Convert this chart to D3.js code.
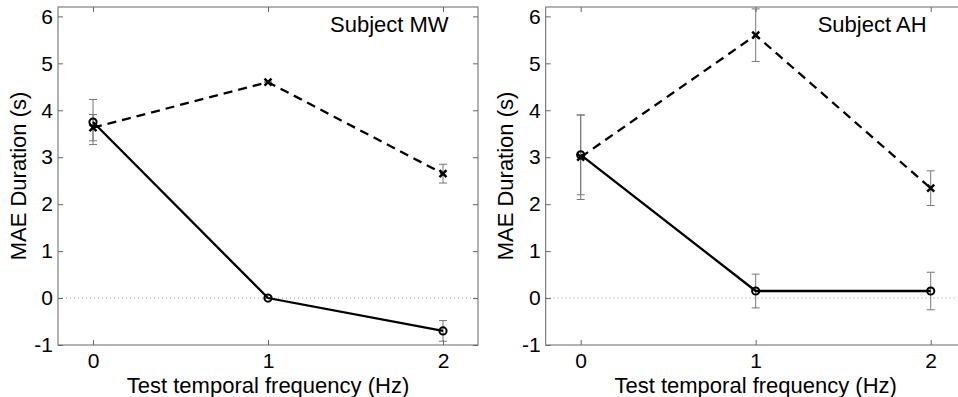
<!DOCTYPE html>
<html>
<head>
<meta charset="utf-8">
<script src="https://cdn.jsdelivr.net/npm/d3@7"></script>
<style>
  html, body { margin: 0; padding: 0; background: #fff; overflow: hidden; }
  text { font-family: "Liberation Sans", Arial, Helvetica, sans-serif; fill: #000; }
</style>
</head>
<body>
<div id="chart"></div>
<script>
// data
const freqs = [0, 1, 2];
const xTicks = [0, 1, 2];
const yTicks = [-1, 0, 1, 2, 3, 4, 5, 6];
const subjects = ['Subject MW', 'Subject AH'];

const mwSolid = [3.75, 0.0, -0.70];
const mwSolidErr = [0.48, 0.0, 0.22];
const mwDashed = [3.63, 4.60, 2.65];
const mwDashedErr = [0.28, 0.0, 0.20];

const ahSolid = [3.05, 0.15, 0.15];
const ahSolidErr = [0.85, 0.36, 0.40];
const ahDashed = [3.0, 5.6, 2.34];
const ahDashedErr = [0.9, 0.56, 0.37];

const panels = [
  { title: subjects[0], solid: mwSolid, solidErr: mwSolidErr, dashed: mwDashed, dashedErr: mwDashedErr, left: 58 },
  { title: subjects[1], solid: ahSolid, solidErr: ahSolidErr, dashed: ahDashed, dashedErr: ahDashedErr, left: 545.7 }
];

const W = 958, H = 397;
const plotTop = 7, pw = 420, ph = 338;
const axisColor = '#666';

const svg = d3.select('#chart').append('svg')
  .attr('width', W)
  .attr('height', H);

const x = d3.scaleLinear().domain([-0.2, 2.2]).range([0, pw]);
const y = d3.scaleLinear().domain([-1, 6.2]).range([ph, 0]);

panels.forEach(p => {
  const g = svg.append('g').attr('transform', 'translate(' + p.left + ',' + plotTop + ')');

  // zero reference line
  g.append('line')
    .attr('x1', 0).attr('x2', pw)
    .attr('y1', y(0)).attr('y2', y(0))
    .attr('stroke', '#999')
    .attr('stroke-width', 1)
    .attr('stroke-dasharray', '1,3');

  // axes, ticks pointing inward
  const styleAxis = sel => {
    sel.select('.domain').remove();
    sel.selectAll('.tick line').attr('stroke', axisColor);
    sel.selectAll('.tick text').style('font-size', '21px').style('font-family', '"Liberation Sans", Arial, sans-serif').attr('fill', '#000');
  };

  g.append('g')
    .call(d3.axisLeft(y).tickValues(yTicks).tickFormat(d => String(d)).tickSizeInner(-5).tickSizeOuter(0).tickPadding(5))
    .call(styleAxis);

  g.append('g')
    .attr('transform', 'translate(' + pw + ',0)')
    .call(d3.axisRight(y).tickValues(yTicks).tickFormat('').tickSizeInner(-5).tickSizeOuter(0))
    .call(styleAxis);

  g.append('g')
    .attr('transform', 'translate(0,' + ph + ')')
    .call(d3.axisBottom(x).tickValues(xTicks).tickFormat(d => String(d)).tickSizeInner(-5).tickSizeOuter(0).tickPadding(8))
    .call(styleAxis);

  g.append('g')
    .call(d3.axisTop(x).tickValues(xTicks).tickFormat('').tickSizeInner(-5).tickSizeOuter(0))
    .call(styleAxis);

  g.append('rect')
    .attr('width', pw).attr('height', ph)
    .attr('fill', 'none')
    .attr('stroke', axisColor)
    .attr('stroke-width', 1);

  // error bars
  const drawErr = (vals, errs) => {
    const eg = g.append('g').attr('stroke', '#777').attr('stroke-width', 1);
    freqs.forEach((f, i) => {
      const cx = x(f), lo = y(vals[i] - errs[i]), hi = y(vals[i] + errs[i]);
      eg.append('line').attr('x1', cx).attr('x2', cx).attr('y1', lo).attr('y2', hi);
      eg.append('line').attr('x1', cx - 4).attr('x2', cx + 4).attr('y1', lo).attr('y2', lo);
      eg.append('line').attr('x1', cx - 4).attr('x2', cx + 4).attr('y1', hi).attr('y2', hi);
    });
  };
  drawErr(p.dashed, p.dashedErr);
  drawErr(p.solid, p.solidErr);

  const line = d3.line().x((d, i) => x(freqs[i])).y(d => y(d));

  g.append('path')
    .datum(p.dashed)
    .attr('d', line)
    .attr('fill', 'none')
    .attr('stroke', '#000')
    .attr('stroke-width', 2.3)
    .attr('stroke-dasharray', '9,6');

  g.append('path')
    .datum(p.solid)
    .attr('d', line)
    .attr('fill', 'none')
    .attr('stroke', '#000')
    .attr('stroke-width', 2.3);

  // markers
  g.selectAll('.cross')
    .data(p.dashed)
    .enter()
    .append('path')
    .attr('d', (d, i) => {
      const cx = x(freqs[i]), cy = y(d), s = 3.5;
      return 'M' + (cx - s) + ',' + (cy - s) + 'L' + (cx + s) + ',' + (cy + s) +
             'M' + (cx - s) + ',' + (cy + s) + 'L' + (cx + s) + ',' + (cy - s);
    })
    .attr('stroke', '#000')
    .attr('stroke-width', 2.4);

  g.selectAll('.circ')
    .data(p.solid)
    .enter()
    .append('circle')
    .attr('cx', (d, i) => x(freqs[i]))
    .attr('cy', d => y(d))
    .attr('r', 3.6)
    .attr('fill', 'none')
    .attr('stroke', '#000')
    .attr('stroke-width', 2);

  // subject label
  g.append('text')
    .attr('x', 272)
    .attr('y', 25)
    .style('font-size', '22px')
    .text(p.title);

  // axis titles
  g.append('text')
    .attr('x', pw / 2)
    .attr('y', ph + 47.5)
    .attr('text-anchor', 'middle')
    .style('font-size', '22px')
    .text('Test temporal frequency (Hz)');

  g.append('text')
    .attr('transform', 'translate(-32.5,' + (ph / 2) + ')rotate(-90)')
    .attr('text-anchor', 'middle')
    .style('font-size', '22px')
    .text('MAE Duration (s)');
});
</script>
</body>
</html>
